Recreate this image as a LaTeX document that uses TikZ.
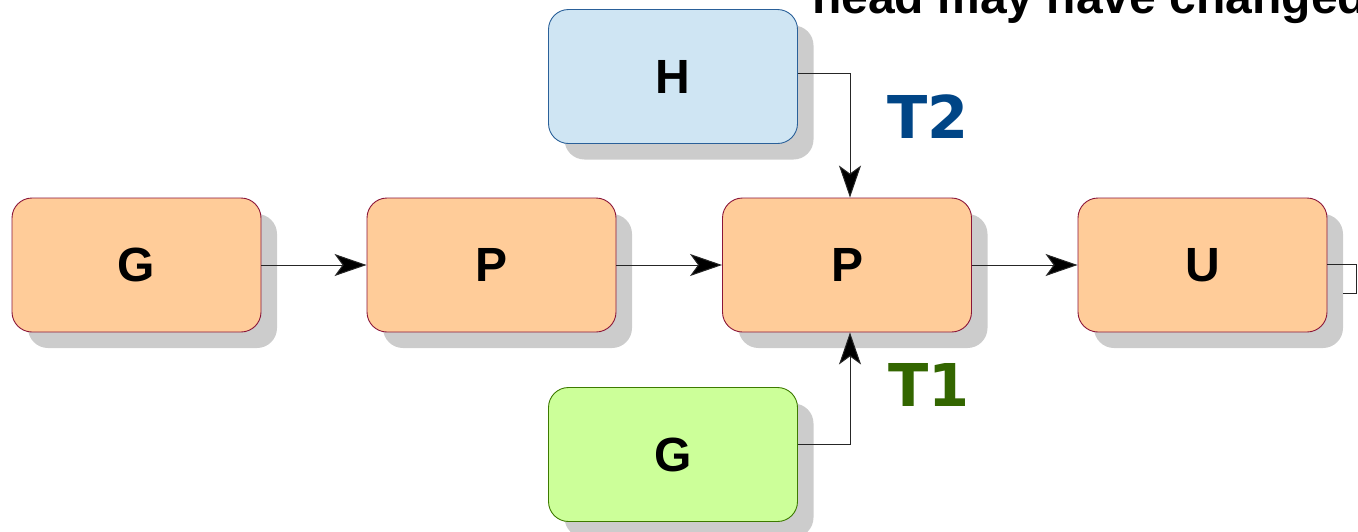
\documentclass[tikz,border=0pt]{standalone}
\usepackage{fontspec}
\setmainfont{Liberation Sans}
\newfontfamily\dvfont{DejaVu Sans}
\usetikzlibrary{arrows.meta,shadows}
\definecolor{orfill}{HTML}{FFCC99}
\definecolor{ordraw}{HTML}{8B1538}
\definecolor{blfill}{HTML}{CFE5F3}
\definecolor{bldraw}{HTML}{2A6099}
\definecolor{grfill}{HTML}{CCFF99}
\definecolor{grdraw}{HTML}{3D7A00}
\definecolor{tone}{HTML}{336600}
\definecolor{ttwo}{HTML}{004586}
\definecolor{shadowgray}{HTML}{CCCCCC}
\tikzset{
  box/.style={rectangle, rounded corners=20pt, minimum width=249pt, minimum height=134pt,
    inner sep=0pt, line width=0.9pt,
    font=\bfseries\fontsize{48}{48}\selectfont,
    drop shadow={shadow xshift=16pt, shadow yshift=-16pt, fill=shadowgray, opacity=1}},
  orbox/.style={box, fill=orfill, draw=ordraw},
  blbox/.style={box, fill=blfill, draw=bldraw},
  grbox/.style={box, fill=grfill, draw=grdraw},
  arr/.style={line width=1pt, draw=black!85, -{Stealth[length=32pt, width=22pt, inset=8pt, fill=black]}},
  plain/.style={line width=1pt, draw=black!85},
  tlabel/.style={font=\dvfont\bfseries\fontsize{59}{59}\selectfont}
}
\begin{document}
\begin{tikzpicture}[x=1pt, y=-1pt]
\useasboundingbox (0,0) rectangle (1358,531);
\clip (0,0) rectangle (1358,531);
\node[orbox] (g1) at (136.5,265) {G};
\node[orbox] (p1) at (491.5,265) {P};
\node[orbox] (p2) at (847,265) {P};
\node[orbox] (u) at (1202.5,265) {U};
\node[blbox] (h) at (673,76.5) {H};
\node[grbox] (g2) at (673,454.5) {G};
\draw[arr] (g1.east) -- (p1.west);
\draw[arr] (p1.east) -- (p2.west);
\draw[arr] (p2.east) -- (u.west);
\draw[arr] ([yshift=3pt]h.east) -| ([xshift=3pt]p2.north);
\draw[arr] ([yshift=10pt]g2.east) -| ([xshift=3pt]p2.south);
\coordinate (l1) at (1356,264);
\coordinate (l2) at (1356,293);
\coordinate (l3) at (1343,293);
\draw[plain] ([yshift=1pt]u.east) -- (l1) -- (l2) -- (l3);
\node[tlabel, text=ttwo] (t2) at (928,117) {T2};
\node[tlabel, text=tone] (t1) at (929,385) {T1};
\node[anchor=base west, inner sep=0pt, font=\bfseries\fontsize{48}{48}\selectfont] (head) at (812,13) {head may have changed};
\end{tikzpicture}
\end{document}
